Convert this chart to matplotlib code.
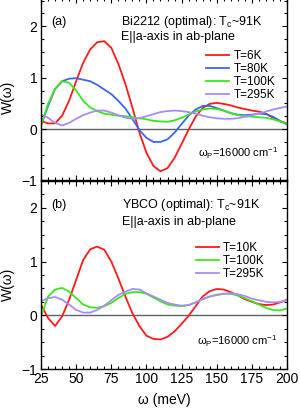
import numpy as np
import matplotlib
matplotlib.use("Agg")
import matplotlib.pyplot as plt
from matplotlib.ticker import MultipleLocator

plt.rcParams["font.family"] = ["Liberation Sans", "DejaVu Sans"]
plt.rcParams["mathtext.fontset"] = "custom"
plt.rcParams["mathtext.rm"] = "Liberation Sans"
plt.rcParams["mathtext.it"] = "Liberation Sans:italic"

# Photon energy grid (meV), shared by every curve
omega = np.arange(25, 201, 5)

# Panel (a): Bi2212, W(omega)
bi_6k = [0.16, 0.11, 0.11, 0.26, 0.55, 0.93, 1.29, 1.55, 1.69, 1.71, 1.58, 1.27,
         0.88, 0.42, -0.07, -0.46, -0.72, -0.82, -0.76, -0.56, -0.29, -0.01, 0.24, 0.41,
         0.49, 0.51, 0.49, 0.46, 0.42, 0.39, 0.36, 0.34, 0.30, 0.22, 0.15, 0.11]
bi_80k = [0.07, 0.45, 0.78, 0.93, 0.98, 0.99, 0.96, 0.93, 0.86, 0.77, 0.68, 0.55,
          0.40, 0.20, -0.02, -0.17, -0.25, -0.25, -0.20, -0.07, 0.10, 0.26, 0.38, 0.45,
          0.45, 0.41, 0.36, 0.31, 0.28, 0.27, 0.28, 0.30, 0.29, 0.24, 0.16, 0.09]
bi_100k = [0.07, 0.49, 0.78, 0.93, 0.90, 0.75, 0.55, 0.42, 0.35, 0.30, 0.28, 0.26,
           0.25, 0.23, 0.21, 0.19, 0.16, 0.15, 0.14, 0.17, 0.22, 0.28, 0.34, 0.38,
           0.40, 0.39, 0.36, 0.31, 0.27, 0.25, 0.24, 0.23, 0.22, 0.19, 0.15, 0.10]
bi_295k = [0.29, 0.22, 0.12, 0.07, 0.12, 0.20, 0.27, 0.32, 0.36, 0.36, 0.32, 0.27,
           0.22, 0.20, 0.21, 0.25, 0.29, 0.33, 0.35, 0.36, 0.35, 0.33, 0.30, 0.26,
           0.23, 0.21, 0.20, 0.20, 0.21, 0.24, 0.27, 0.30, 0.34, 0.38, 0.41, 0.44]

# Panel (b): YBCO, W(omega)
y_10k = [0.20, -0.05, -0.20, -0.02, 0.29, 0.66, 1.03, 1.23, 1.28, 1.22, 1.00, 0.69,
         0.35, 0.04, -0.20, -0.38, -0.44, -0.45, -0.40, -0.30, -0.16, -0.01, 0.17, 0.35,
         0.45, 0.49, 0.48, 0.43, 0.37, 0.30, 0.25, 0.21, 0.19, 0.20, 0.24, 0.29]
y_100k = [-0.02, 0.35, 0.48, 0.51, 0.44, 0.32, 0.20, 0.15, 0.14, 0.17, 0.23, 0.32,
          0.40, 0.43, 0.43, 0.40, 0.33, 0.26, 0.20, 0.18, 0.17, 0.19, 0.24, 0.30,
          0.35, 0.38, 0.40, 0.40, 0.37, 0.32, 0.26, 0.20, 0.14, 0.10, 0.09, 0.13]
y_295k = [0.26, 0.32, 0.34, 0.29, 0.20, 0.10, 0.05, 0.05, 0.10, 0.18, 0.28, 0.38,
          0.44, 0.49, 0.48, 0.41, 0.35, 0.29, 0.23, 0.20, 0.18, 0.19, 0.24, 0.30,
          0.35, 0.38, 0.40, 0.41, 0.39, 0.36, 0.31, 0.28, 0.25, 0.24, 0.25, 0.28]

RED = "#ff1a1a"
BLUE = "#3a66f0"
GREEN = "#3ae81a"
PURPLE = "#a98bf5"

fig = plt.figure(figsize=(3.0, 4.13), dpi=100)
ax_a = fig.add_axes([0.1367, 0.5630, 0.82, 0.4419])
ax_b = fig.add_axes([0.1367, 0.1065, 0.82, 0.4552])


def style_axis(ax, top):
    ax.set_xlim(25, 200)
    ax.set_ylim(-1, top)
    ax.axhline(0, color="#5a6464", lw=1.0, zorder=1)
    ax.xaxis.set_major_locator(MultipleLocator(25))
    ax.xaxis.set_minor_locator(MultipleLocator(5))
    ax.yaxis.set_major_locator(MultipleLocator(1))
    ax.yaxis.set_minor_locator(MultipleLocator(0.25))
    ax.tick_params(which="both", direction="in", top=True, right=True,
                   width=0.8, labelsize=10)
    ax.tick_params(which="major", length=3.5, pad=2.5)
    ax.tick_params(which="minor", length=2)
    for s in ax.spines.values():
        s.set_linewidth(1.0)
    ax.set_ylabel("W(ω)", fontsize=10)


lw = 1.3

# Panel (a)
ax_a.plot(omega, bi_6k, color=RED, lw=lw, label="T=6K")
ax_a.plot(omega, bi_80k, color=BLUE, lw=lw, label="T=80K")
ax_a.plot(omega, bi_100k, color=GREEN, lw=lw, label="T=100K")
ax_a.plot(omega, bi_295k, color=PURPLE, lw=lw, label="T=295K")
style_axis(ax_a, 2.55)
ax_a.tick_params(labelbottom=False)
ax_a.set_yticks([-1, 0, 1, 2])
ax_a.yaxis.set_label_coords(-0.105, 0.457)
ax_a.text(32.1, 2.03, "(a)", fontsize=9)
ax_a.text(81.9, 2.03, r"Bi2212 (optimal): T$_\mathrm{c}$~91K", fontsize=9)
ax_a.text(81.9, 1.73, "E||a-axis in ab-plane", fontsize=9)
ax_a.text(136.7, -0.54, r"ω$_\mathrm{P}$=16000 cm$^\mathrm{-1}$", fontsize=8)
ax_a.legend(loc="upper left", bbox_to_anchor=(0.672, 0.715), frameon=False,
            fontsize=8.5, handlelength=1.95, handletextpad=0.4,
            labelspacing=0.08, borderpad=0, borderaxespad=0)

# Panel (b)
ax_b.plot(omega, y_10k, color=RED, lw=lw, label="T=10K")
ax_b.plot(omega, y_100k, color=GREEN, lw=lw, label="T=100K")
ax_b.plot(omega, y_295k, color=PURPLE, lw=lw, label="T=295K")
style_axis(ax_b, 2.5)
ax_b.set_yticks([-1, 0, 1, 2])
ax_b.yaxis.set_label_coords(-0.105, 0.448)
ax_b.set_xlabel("ω (meV)", fontsize=10, labelpad=5)
ax_b.text(32.6, 2.0, "(b)", fontsize=9)
ax_b.text(82.4, 2.0, r"YBCO (optimal): T$_\mathrm{c}$~91K", fontsize=9)
ax_b.text(82.4, 1.69, "E||a-axis in ab-plane", fontsize=9)
ax_b.text(135.8, -0.55, r"ω$_\mathrm{P}$=16000 cm$^\mathrm{-1}$", fontsize=8)
ax_b.legend(loc="upper left", bbox_to_anchor=(0.632, 0.675), frameon=False,
            fontsize=8.5, handlelength=1.9, handletextpad=0.3,
            labelspacing=0.08, borderpad=0, borderaxespad=0)

fig.savefig("out.png", dpi=100)
